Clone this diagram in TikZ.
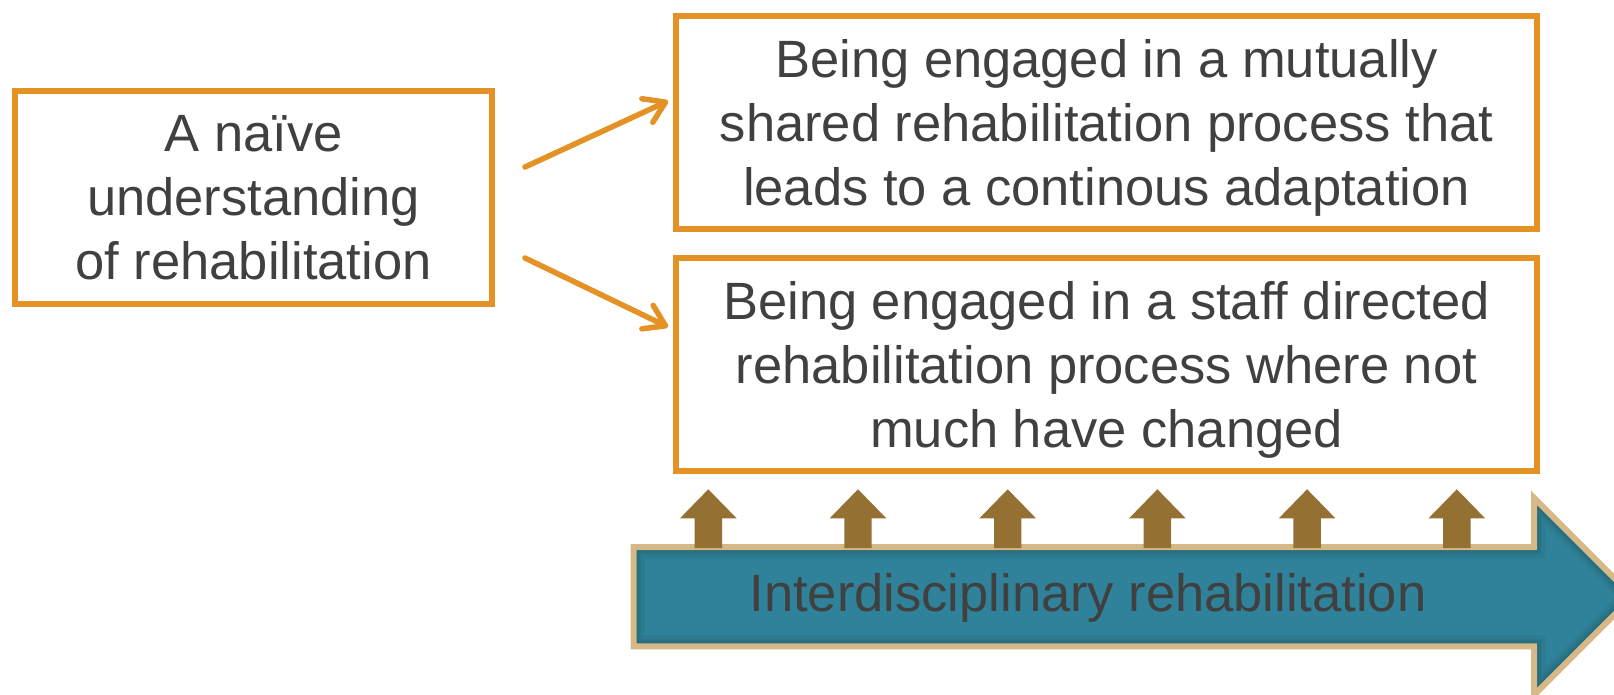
\documentclass[tikz,border=0pt]{standalone}
\usepackage{fontspec}
\setmainfont{Liberation Sans}
\usetikzlibrary{arrows.meta,calc}
\definecolor{boxorange}{RGB}{228,145,38}
\definecolor{txtgray}{RGB}{64,64,64}
\definecolor{tealfill}{RGB}{47,130,153}
\definecolor{tanborder}{RGB}{214,185,135}
\definecolor{brownarrow}{RGB}{148,113,50}
\tikzset{
  bigfont/.style={font=\fontsize{52.5pt}{64pt}\selectfont, text=txtgray},
  obox/.style={draw=boxorange, line width=6pt, fill=white, inner sep=0pt,
    align=center, text depth=0pt, bigfont},
  oarrow/.style={draw=boxorange, line width=5.5pt, line cap=round, line join=round,
    -{Straight Barb[length=20pt,width=26pt,line cap=round,line join=round]}},
  uparrow/.style={fill=brownarrow}
}
\begin{document}
\begin{tikzpicture}[x=1pt,y=-1pt]
\useasboundingbox (0,0) rectangle (1614,695);
\clip (0,0) rectangle (1614,695);

% big arrow
\fill[tealfill] (633.7,547) -- (1534,547) -- (1534,498) -- (1632.5,596.5) -- (1534,695) -- (1534,646.3) -- (633.7,646.3) -- cycle;
\begin{scope}
  \clip (633.7,547) -- (1534,547) -- (1534,498) -- (1632.5,596.5) -- (1534,695) -- (1534,646.3) -- (633.7,646.3) -- cycle;
  \foreach \w/\o in {22/0.05, 14/0.07, 8/0.09} {
    \draw[line width=\w pt, black, opacity=\o, line join=miter]
      (633.7,547) -- (1534,547) -- (1534,498) -- (1632.5,596.5) -- (1534,695) -- (1534,646.3) -- (633.7,646.3) -- cycle;
  }
\end{scope}
\draw[tanborder, line width=6pt, line join=miter]
  (633.7,547) -- (1534,547) -- (1534,498) -- (1632.5,596.5) -- (1534,695) -- (1534,646.3) -- (633.7,646.3) -- cycle;
\node[bigfont, anchor=base, inner sep=0pt] (inter) at (1088,611) {Interdisciplinary rehabilitation};

% small up arrows
\foreach \i in {0,...,5} {
  \pgfmathsetmacro{\cx}{708.3+149.7*\i}
  \fill[uparrow] (\cx-13.7,548) -- (\cx-13.7,518.3) -- (\cx-28.3,518.3) -- (\cx,489.3)
    -- (\cx+28.3,518.3) -- (\cx+13.7,518.3) -- (\cx+13.7,548) -- cycle;
}

% boxes
\node[obox, minimum width=477pt, minimum height=213pt] (naive) at (253.5,197.5)
  {A naïve\\understanding\\of rehabilitation};
\node[obox, minimum width=861pt, minimum height=213pt] (mutual) at (1106.5,122.5)
  {Being engaged in a mutually\\shared rehabilitation process that\\leads to a continous adaptation};
\node[obox, minimum width=861pt, minimum height=213pt] (staff) at (1106.5,364.5)
  {Being engaged in a staff directed\\rehabilitation process where not\\much have changed};

% connectors
\coordinate (s1) at ($(naive.east)+(30,-30.5)$);
\coordinate (e1) at ($(mutual.west)+(-5,-21.5)$);
\coordinate (s2) at ($(naive.east)+(30,60.5)$);
\coordinate (e2) at ($(staff.west)+(-5,-37.5)$);
\draw[oarrow] (s1) -- (e1);
\draw[oarrow] (s2) -- (e2);
\end{tikzpicture}
\end{document}
